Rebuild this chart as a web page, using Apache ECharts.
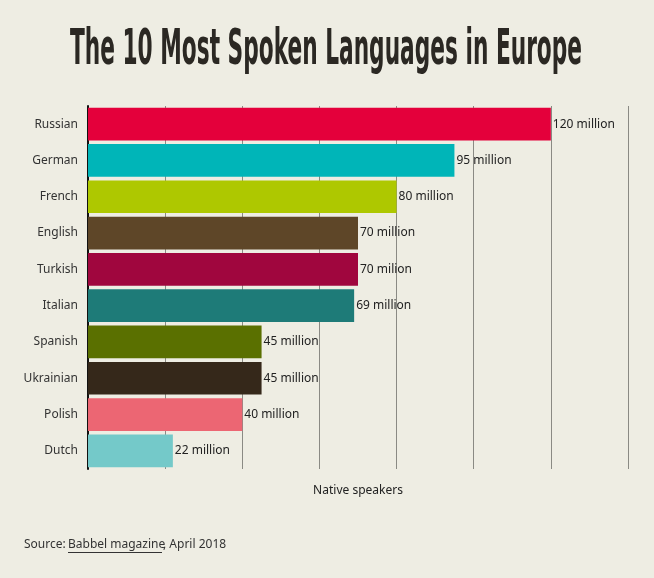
<!doctype html>
<html>
 <head>
  <meta charset="UTF-8">
  <script src="https://cdn.jsdelivr.net/npm/echarts@6/dist/echarts.min.js"></script>
  <title>The 10 Most Spoken Languages in Europe</title>
  <style>
   body { margin: 0; background: #eeede3; }
   #chart { width: 654px; height: 578px; }
  </style>
 </head>
 <body>
  <div id="chart"></div>
  <script type="text/javascript">
    var languages = ['Russian', 'German', 'French', 'English', 'Turkish', 'Italian', 'Spanish', 'Ukrainian', 'Polish', 'Dutch'];
    var speakers = [120, 95, 80, 70, 70, 69, 45, 45, 40, 22];
    var valueLabels = ['120 million', '95 million', '80 million', '70 million', '70 milion', '69 million', '45 million', '45 million', '40 million', '22 million'];
    var barColors = ['#e4003b', '#00b5b8', '#aec800', '#5e4628', '#a0063e', '#1e7b78', '#5a7000', '#35281a', '#ec6673', '#74c9c9'];

    var font = 'Noto Sans';
    var myChart = echarts.init(document.getElementById('chart'));
    myChart.setOption({
      backgroundColor: '#eeede3',
      animation: false,
      grid: { left: 88, right: 26, top: 106, bottom: 109 },
      xAxis: {
        type: 'value',
        min: 0,
        max: 140,
        interval: 20,
        name: 'Native speakers',
        nameLocation: 'middle',
        nameGap: 16,
        nameTextStyle: { fontFamily: font, fontSize: 12, color: '#222' },
        axisLine: { show: false },
        axisTick: { show: false },
        axisLabel: { show: false },
        splitLine: { lineStyle: { color: '#8a8a84', width: 1 } }
      },
      yAxis: {
        type: 'category',
        data: languages,
        inverse: true,
        axisLine: { lineStyle: { color: '#111', width: 2 } },
        axisTick: { show: false },
        axisLabel: { fontFamily: font, fontSize: 12, color: '#333', margin: 10 }
      },
      series: [{
        type: 'bar',
        barCategoryGap: '10%',
        data: speakers.map(function (v, i) {
          return { value: v, itemStyle: { color: barColors[i] } };
        }),
        label: {
          show: true,
          position: 'right',
          distance: 2,
          fontFamily: font,
          fontSize: 12,
          color: '#222',
          formatter: function (p) { return valueLabels[p.dataIndex]; }
        }
      }],
      graphic: [
        {
          type: 'text',
          x: 326,
          y: 51,
          scaleX: 0.67,
          scaleY: 1.4,
          style: {
            text: 'The 10 Most Spoken Languages in Europe',
            font: 'bold 36px "DejaVu Sans Condensed", sans-serif',
            fill: '#2b2823',
            align: 'center',
            verticalAlign: 'middle'
          }
        },
        {
          type: 'text',
          left: 24,
          top: 539,
          style: {
            text: 'Source: ',
            font: '12px "Noto Sans"',
            fill: '#333'
          }
        },
        {
          type: 'text',
          left: 68,
          top: 539,
          style: {
            text: 'Babbel magazine',
            font: '12px "Noto Sans"',
            fill: '#333'
          }
        },
        {
          type: 'line',
          shape: { x1: 68, y1: 552.5, x2: 162, y2: 552.5 },
          style: { stroke: '#333', lineWidth: 1 }
        },
        {
          type: 'text',
          left: 163,
          top: 539,
          style: {
            text: ', April 2018',
            font: '12px "Noto Sans"',
            fill: '#333'
          }
        }
      ]
    });
  </script>
 </body>
</html>
